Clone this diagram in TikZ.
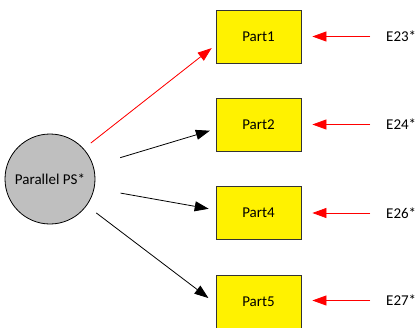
\documentclass[tikz,border=0pt]{standalone}
\usepackage{fontspec}
\setmainfont{Carlito}
\usetikzlibrary{arrows.meta,calc}
\begin{document}
\begin{tikzpicture}[x=1pt,y=-1pt,
  partbox/.style={draw=black!80,fill=yellow,line width=0.8pt,minimum width=85pt,minimum height=53pt,inner sep=0pt,font=\fontsize{15}{18}\selectfont},
  hub/.style={circle,draw=black,fill=black!25,line width=0.8pt,minimum size=90pt,inner sep=0pt,font=\fontsize{15}{18}\selectfont},
  elabel/.style={anchor=west,inner sep=0pt,font=\fontsize{15}{18}\selectfont},
  arr/.style={line width=0.8pt,-{Triangle[length=14pt,width=10pt]}},
  redarr/.style={arr,draw=red,fill=red}]
\useasboundingbox (0,0) rectangle (418,327);
\node[hub] (c) at (50,179) {Parallel PS*};
\node[partbox] (p1) at (258.5,36.5) {Part1};
\node[partbox] (p2) at (258.5,124.5) {Part2};
\node[partbox] (p4) at (258.5,213) {Part4};
\node[partbox] (p5) at (258.5,301.5) {Part5};
\node[elabel] (e1) at (386,36.5) {E23*};
\node[elabel] (e2) at (386,124.5) {E24*};
\node[elabel] (e4) at (386,213) {E26*};
\node[elabel] (e5) at (386,300.5) {E27*};
\draw[redarr,shorten <=9pt,shorten >=5pt] (c.42) -- ($(p1.west)+(0,8.5)$);
\draw[arr,shorten <=28pt,shorten >=6pt] (c.17.4) -- ($(p2.west)+(0,4.5)$);
\draw[arr,shorten <=26.6pt,shorten >=7pt] (c.-12.1) -- ($(p4.west)+(0,-3)$);
\draw[arr,shorten <=12pt,shorten >=9pt] (c.-36.5) -- ($(p5.west)+(0,2)$);
\foreach \e/\p in {e1/p1,e2/p2,e4/p4}
  \draw[redarr,shorten <=16pt,shorten >=11pt] (\e.west) -- (\p.east);
\draw[redarr,shorten <=16pt,shorten >=11pt] (e5.west) -- (p5.east |- e5.west);
\end{tikzpicture}
\end{document}
